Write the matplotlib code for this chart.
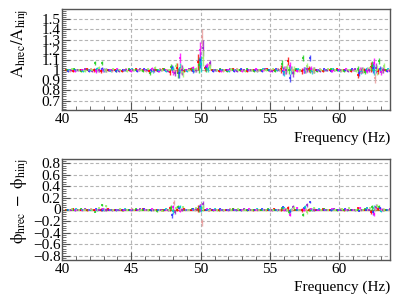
import numpy as np
import matplotlib
matplotlib.use("Agg")
import matplotlib.pyplot as plt
from matplotlib.ticker import MultipleLocator

plt.rcParams['font.family'] = ['Liberation Serif', 'DejaVu Serif']
plt.rcParams['mathtext.fontset'] = 'stix'

# ---------------- data ----------------
freq = [40.5, 41.0, 41.5, 42.0, 42.5, 43.0, 43.5, 44.0, 44.5, 45.0, 45.5, 46.0,
        46.5, 47.0, 47.5, 48.0, 48.5, 49.0, 49.5, 50.0, 50.5, 51.0, 51.5, 52.0,
        52.5, 53.0, 53.5, 54.0, 54.5, 55.0, 55.5, 56.0, 56.5, 57.0, 57.5, 58.0,
        58.5, 59.0, 59.5, 60.0, 60.5, 61.0, 61.5, 62.0, 62.5, 63.0, 63.5]

series_names = ['red', 'green', 'blue', 'magenta', 'cyan', 'pink', 'purple', 'lightgreen']
series_colors = ['#ff0000', '#22cc22', '#3333ff', '#ff00ff', '#00cccc', '#e89a9a', '#9922cc', '#99ee66']

ratio_red = [1.00,0.99,1.00,1.01,1.00,0.99,1.00,1.00,0.99,1.00,1.01,1.00,0.99,1.00,1.01,0.98,1.02,0.99,1.01,1.08,1.02,1.00,0.99,1.00,1.01,1.00,0.99,1.00,1.00,1.01,1.00,1.01,1.09,1.00,0.99,1.01,1.00,0.99,1.00,1.01,1.00,0.99,0.95,1.00,1.03,0.99,1.00]
ratio_green = [1.00,1.01,0.99,1.00,1.07,1.07,1.00,0.99,1.00,1.01,1.00,0.99,0.97,1.00,1.01,1.03,0.97,1.00,1.01,1.05,1.01,1.00,1.01,0.99,1.00,1.00,1.01,0.99,1.00,1.00,0.99,1.06,1.00,1.01,1.12,1.00,0.99,1.00,1.01,1.00,0.99,1.00,1.01,0.98,1.04,1.09,1.00]
ratio_blue = [0.99,1.00,1.00,0.99,1.00,1.01,1.00,0.99,1.00,1.00,0.99,1.01,1.00,0.99,1.00,1.02,0.97,1.00,0.99,1.10,1.03,0.99,1.00,1.00,0.99,1.01,1.00,1.00,0.99,1.00,1.01,0.99,0.92,1.00,1.00,1.12,1.00,1.01,0.99,1.00,1.00,1.01,0.97,1.00,1.02,1.01,0.99]
ratio_magenta = [1.00,0.99,1.00,1.00,0.99,1.00,1.00,1.01,1.00,0.99,1.00,1.00,1.01,0.99,1.00,0.98,1.12,1.00,1.02,1.20,1.04,1.00,0.99,1.00,1.00,0.99,1.00,1.01,1.00,0.99,1.00,1.00,1.04,0.99,1.00,1.01,1.00,1.00,0.99,1.00,1.01,1.00,1.00,0.99,1.07,0.98,1.00]
ratio_cyan = [1.00,1.00,0.99,1.00,1.01,1.00,0.99,1.00,1.00,1.01,1.00,1.00,0.99,1.00,0.99,1.01,1.02,0.99,1.00,1.06,1.01,1.00,1.00,0.99,1.00,1.00,1.00,0.99,1.01,1.00,1.00,0.98,1.00,1.01,1.00,0.99,1.00,1.00,1.01,0.99,1.00,1.00,0.99,1.01,1.00,1.00,1.01]
ratio_pink = [0.99,1.00,1.00,1.01,1.00,1.00,0.99,1.00,1.01,1.00,1.00,0.99,1.00,1.01,1.00,0.99,1.01,1.00,1.00,1.32,1.05,1.00,0.99,1.00,1.01,1.00,1.00,0.99,1.00,1.00,1.01,1.00,1.00,0.99,1.00,1.00,1.01,1.00,1.00,0.99,1.00,1.00,1.00,1.01,0.92,1.00,1.00]
ratio_purple = [1.00,1.00,1.01,0.99,1.00,1.00,1.00,0.99,1.00,1.00,1.01,1.00,1.00,1.00,0.99,0.97,1.00,1.01,1.00,1.22,1.07,1.00,1.00,1.01,0.99,1.00,1.00,1.00,1.01,0.99,1.00,1.00,0.97,1.00,1.01,1.00,0.99,1.00,1.00,1.00,0.99,1.01,1.00,1.00,1.02,1.00,0.99]
ratio_lightgreen = [1.01,1.00,0.99,1.00,1.02,1.00,1.01,1.00,0.99,1.00,1.00,1.01,1.02,1.00,1.00,1.04,0.98,1.00,1.01,1.12,1.03,1.00,1.00,1.01,1.00,0.99,1.00,1.00,1.00,1.01,1.00,1.02,1.00,1.00,1.04,1.00,1.00,1.01,1.00,1.00,1.00,0.99,1.00,1.02,1.00,1.04,1.00]

ratio_err = [0.01,0.01,0.01,0.01,0.02,0.02,0.01,0.01,0.01,0.01,0.01,0.01,0.02,0.01,0.01,0.03,0.05,0.01,0.02,0.08,0.03,0.01,0.01,0.01,0.01,0.01,0.01,0.01,0.01,0.01,0.01,0.04,0.04,0.01,0.03,0.03,0.01,0.01,0.01,0.01,0.01,0.01,0.03,0.02,0.05,0.03,0.01]

phase_red = [0.00,0.01,0.00,-0.01,0.00,0.00,0.01,0.00,-0.01,0.00,0.00,0.01,0.00,0.00,-0.01,0.02,0.00,0.01,0.00,0.01,0.00,0.00,-0.01,0.00,0.01,0.00,0.00,-0.01,0.00,0.00,0.01,0.00,0.03,0.00,-0.01,0.00,0.00,0.01,0.00,0.00,-0.01,0.00,0.02,0.00,-0.04,0.01,0.00]
phase_green = [0.00,0.00,0.01,0.00,-0.04,0.08,0.00,0.00,-0.01,0.00,0.01,0.00,0.00,-0.03,0.00,0.03,0.05,0.00,0.01,0.02,0.00,-0.01,0.00,0.00,0.01,0.00,-0.01,0.00,0.00,0.01,0.00,0.02,-0.05,0.00,-0.09,0.00,0.00,0.01,0.00,-0.01,0.00,0.00,0.00,0.01,0.04,0.05,0.00]
phase_blue = [0.00,-0.01,0.00,0.00,0.01,0.00,0.00,-0.01,0.00,0.00,0.00,0.01,-0.01,0.00,0.00,-0.10,0.03,0.00,0.01,0.04,0.00,0.00,0.01,0.00,0.00,-0.01,0.00,0.00,0.01,0.00,0.00,0.04,-0.03,0.00,0.02,0.13,0.00,0.00,-0.01,0.00,0.01,0.00,-0.02,0.00,-0.05,0.02,0.00]
phase_magenta = [0.00,0.00,-0.01,0.00,0.00,0.01,0.00,0.00,0.00,-0.01,0.00,0.00,0.01,0.00,0.00,0.04,-0.02,0.00,0.00,0.03,0.01,0.00,0.00,-0.01,0.00,0.00,0.01,0.00,0.00,-0.01,0.00,0.00,-0.09,0.03,0.00,0.01,0.00,0.00,0.01,0.00,0.00,0.00,0.03,0.02,-0.08,0.00,0.00]
phase_cyan = [0.00,0.01,0.00,0.00,-0.01,0.00,0.00,0.00,0.01,0.00,-0.01,0.00,0.00,0.00,0.01,-0.03,0.05,0.00,0.00,0.02,0.00,0.01,0.00,0.00,-0.01,0.00,0.00,0.01,0.00,0.00,-0.01,0.02,0.00,0.00,0.04,0.00,0.01,0.00,0.00,0.00,-0.01,0.00,0.00,0.02,0.03,-0.02,0.00]
phase_pink = [0.00,0.00,0.00,0.01,0.00,-0.01,0.00,0.00,0.00,0.01,0.00,0.00,-0.01,0.00,0.00,0.12,0.00,0.00,-0.01,-0.22,-0.02,0.00,0.00,0.01,0.00,0.00,0.00,-0.01,0.00,0.00,0.00,0.01,0.00,0.00,0.00,-0.01,0.00,0.00,0.00,0.01,0.00,0.00,-0.01,0.00,0.02,0.00,0.00]
phase_purple = [0.00,0.00,0.01,0.00,0.00,0.00,-0.01,0.00,0.00,0.00,0.01,0.00,0.00,0.00,-0.01,-0.04,0.00,0.00,0.01,0.09,0.01,0.00,-0.01,0.00,0.00,0.01,0.00,0.00,0.00,-0.01,0.00,0.00,0.05,0.00,0.08,0.00,0.00,0.00,0.01,0.00,0.00,-0.01,0.00,0.00,0.05,0.00,0.01]
phase_lightgreen = [0.01,0.00,0.00,0.00,0.02,0.06,0.00,0.01,0.00,0.00,0.00,-0.01,0.00,-0.02,0.00,0.02,0.04,0.00,0.02,0.03,0.00,-0.01,0.00,0.00,0.01,0.00,0.00,0.00,-0.01,0.00,0.00,0.00,0.03,0.00,-0.05,0.02,0.00,0.00,0.00,0.01,0.02,0.00,0.00,0.02,0.06,0.00,0.00]

phase_err = [0.01,0.01,0.01,0.01,0.01,0.02,0.01,0.01,0.01,0.01,0.01,0.01,0.01,0.01,0.01,0.04,0.02,0.01,0.01,0.06,0.01,0.01,0.01,0.01,0.01,0.01,0.01,0.01,0.01,0.01,0.01,0.02,0.03,0.01,0.03,0.02,0.01,0.01,0.01,0.01,0.01,0.01,0.01,0.01,0.04,0.02,0.01]

ratio_series = [ratio_red, ratio_green, ratio_blue, ratio_magenta, ratio_cyan,
                ratio_pink, ratio_purple, ratio_lightgreen]
phase_series = [phase_red, phase_green, phase_blue, phase_magenta, phase_cyan,
                phase_pink, phase_purple, phase_lightgreen]

x_ticks = [40, 45, 50, 55, 60]
ratio_ticks = [0.7, 0.8, 0.9, 1, 1.1, 1.2, 1.3, 1.4, 1.5]
ratio_ticklabels = ['0.7', '0.8', '0.9', '1', '1.1', '1.2', '1.3', '1.4', '1.5']
phase_ticks = [-0.8, -0.6, -0.4, -0.2, 0, 0.2, 0.4, 0.6, 0.8]
phase_ticklabels = ['\u22120.8', '\u22120.6', '\u22120.4', '\u22120.2', '0', '0.2', '0.4', '0.6', '0.8']

# ---------------- figure ----------------
W, H = 398, 300
fig = plt.figure(figsize=(W / 100, H / 100), dpi=100)

def px_axes(left, top, right, bottom):
    return fig.add_axes([left / W, 1 - bottom / H, (right - left) / W, (bottom - top) / H])

ax1 = px_axes(62, 9, 390, 110)
ax2 = px_axes(62, 159, 390, 260)

frame_col = '#555555'
grid_col = '#b4b4b4'
freq_arr = np.array(freq)
nser = len(series_names)

for ax, data, err, ylim, ticks, tlabels, yminor in [
        (ax1, ratio_series, ratio_err, (0.607, 1.6), ratio_ticks, ratio_ticklabels, 0.02),
        (ax2, phase_series, phase_err, (-0.875, 0.875), phase_ticks, phase_ticklabels, 0.04)]:
    ax.set_xlim(40, 63.65)
    ax.set_ylim(*ylim)
    ax.set_xticks(x_ticks)
    ax.set_xticklabels([str(t) for t in x_ticks])
    ax.set_yticks(ticks)
    ax.set_yticklabels(tlabels)
    ax.xaxis.set_minor_locator(MultipleLocator(1))
    ax.yaxis.set_minor_locator(MultipleLocator(yminor))
    ax.tick_params(axis='both', which='both', direction='in', top=False, right=False,
                   color=frame_col, labelsize=11, pad=2)
    ax.tick_params(axis='both', which='major', length=6, width=0.8)
    ax.tick_params(axis='both', which='minor', length=3, width=0.6)
    ax.tick_params(axis='y', which='both', pad=1)
    for sp in ax.spines.values():
        sp.set_color(frame_col)
        sp.set_linewidth(1.0)
    for t in x_ticks[1:]:
        ax.axvline(t, color=grid_col, lw=0.8, ls=(0, (3, 2)), zorder=0)
    for t in ticks:
        ax.axhline(t, color=grid_col, lw=0.8, ls=(0, (3, 2)), zorder=0)
    for k in range(nser):
        shift = (k - (nser - 1) / 2) * 0.055
        ax.errorbar(freq_arr + shift, data[k], yerr=err, fmt='s', ms=1.7,
                    color=series_colors[k], ecolor=series_colors[k],
                    elinewidth=1.0, capsize=0, mew=0, alpha=0.8, zorder=2 + k * 0.01)

ax2.axhline(0, color='#9a8a3a', lw=1.0, zorder=1.5)

fig.text(390 / W, 1 - 138 / H, 'Frequency (Hz)', ha='right', va='center', fontsize=11)
fig.text(390 / W, 1 - 287 / H, 'Frequency (Hz)', ha='right', va='center', fontsize=11)
fig.text(20 / W, 1 - 9 / H, r'$\mathrm{A_{hrec}/A_{hinj}}$', rotation=90,
         ha='center', va='top', fontsize=12)
fig.text(20 / W, 1 - 159 / H, r'$\mathrm{\phi_{hrec}\ -\ \phi_{hinj}}$', rotation=90,
         ha='center', va='top', fontsize=12)

fig.savefig('out.png', dpi=100)
